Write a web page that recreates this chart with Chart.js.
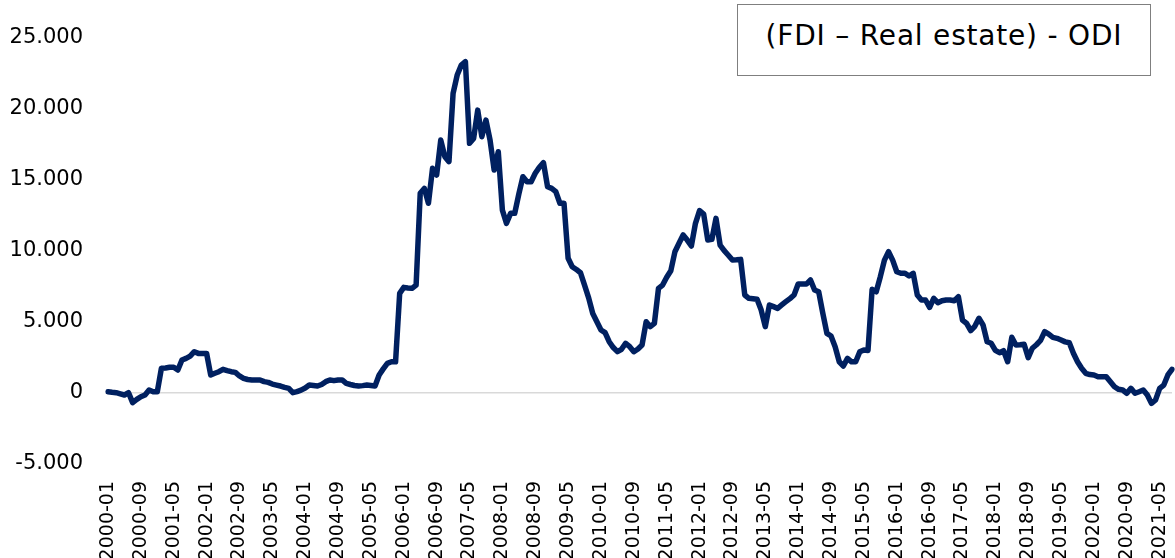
<!DOCTYPE html>
<html>
<head>
<meta charset="utf-8">
<script src="https://cdn.jsdelivr.net/npm/chart.js@4/dist/chart.umd.min.js"></script>
<style>
  body { margin: 0; background: #fff; overflow: hidden; }
  #wrap { position: relative; width: 1175px; height: 558px; }
  #legendBox {
    position: absolute; left: 737px; top: 4px; width: 412px; height: 70px;
    box-sizing: content-box; padding: 0 0 0 0;
    border: 1px solid #7f7f7f; background: #fff;
    display: flex; align-items: center; justify-content: center;
    font-family: Verdana, "DejaVu Sans", sans-serif; font-size: 28px; letter-spacing: 0.8px; color: #000;
  }
  #legendBox span { position: relative; top: -5px; }
</style>
</head>
<body>
<div id="wrap">
  <canvas id="fdiChart" width="1175" height="558"></canvas>
  <div id="legendBox"><span>(FDI – Real estate) - ODI</span></div>
</div>
<script>
// monthly categories 2000-01 .. 2021-08
const startYear = 2000;
const monthCount = 260;
const months = [];
for (let i = 0; i < monthCount; i++) {
    const y = startYear + Math.floor(i / 12);
    const m = (i % 12) + 1;
    months.push(y + '-' + (m < 10 ? '0' + m : m));
}

const seriesLabel = '(FDI – Real estate) - ODI';

// values, one per month
const netFlow = [
    90, 50, 20, -60, -140, 20, -680, -450, -260, -140, 210, 90,
    90, 1740, 1760, 1810, 1810, 1620, 2320, 2440, 2600, 2910, 2790, 2790,
    2790, 1270, 1390, 1500, 1670, 1580, 1500, 1450, 1200, 1030, 950, 920,
    920, 920, 800, 750, 630, 560, 490, 400, 330, 20, 100, 200,
    350, 560, 530, 490, 600, 800, 920, 870, 920, 920, 680, 600,
    530, 490, 520, 560, 530, 490, 1270, 1700, 2090, 2200, 2200, 7020,
    7440, 7400, 7370, 7600, 14060, 14410, 13360, 15820, 15350, 17810, 16640, 16290,
    21100, 22390, 23090, 23330, 17580, 17930, 19920, 18050, 19220, 17810, 15700, 16990,
    12880, 11950, 12650, 12650, 14000, 15230, 14880, 14880, 15470, 15900, 16220, 14530,
    14410, 14180, 13360, 13360, 9490, 8890, 8700, 8470, 7600, 6700, 5600, 5020,
    4440, 4250, 3610, 3200, 2910, 3080, 3500, 3260, 2910, 3100, 3380, 5020,
    4670, 4900, 7370, 7600, 8150, 8610, 9950, 10540, 11130, 10770, 10350, 11950,
    12840, 12600, 10770, 10820, 12300, 10420, 10020, 9700, 9360, 9380, 9410, 6900,
    6670, 6640, 6600, 5840, 4670, 6200, 6080, 5960, 6200, 6430, 6650, 6900,
    7670, 7670, 7670, 7960, 7250, 7130, 5610, 4200, 4010, 3260, 2200, 1900,
    2440, 2200, 2200, 2900, 3030, 3000, 7300, 7130, 8190, 9360, 9950, 9360,
    8540, 8430, 8430, 8240, 8430, 6900, 6550, 6550, 6030, 6670, 6360, 6500,
    6550, 6550, 6500, 6780, 5140, 4900, 4390, 4700, 5260, 4790, 3610, 3500,
    3000, 2840, 2980, 2200, 3920, 3380, 3400, 3430, 2490, 3150, 3400, 3700,
    4320, 4150, 3920, 3850, 3730, 3600, 3540, 2800, 2200, 1740, 1390, 1300,
    1270, 1150, 1150, 1150, 800, 440, 260, 210, -20, 330, -20, 90,
    210, -140, -730, -490, 330, 560, 1270, 1670
];

const yMin = -5000;
const yMax = 25000;
const yStep = 5000;
const labelEvery = 8;

const fontFamily = 'Verdana, "DejaVu Sans", sans-serif';

const ctx = document.getElementById('fdiChart').getContext('2d');
const fdiChart = new Chart(ctx, {
    type: 'line',
    data: {
        labels: months,
        datasets: [{
            label: seriesLabel,
            data: netFlow,
            borderColor: '#002060',
            borderWidth: 5.5,
            pointRadius: 0,
            tension: 0,
            borderJoinStyle: 'round',
            borderCapStyle: 'round',
            fill: false
        }]
    },
    options: {
        responsive: false,
        animation: false,
        layout: { padding: { top: 38, right: 0, bottom: 0, left: 0 } },
        plugins: {
            legend: { display: false },
            tooltip: { enabled: false }
        },
        scales: {
            x: {
                grid: { display: false, drawTicks: false },
                border: { display: false },
                ticks: {
                    autoSkip: false,
                    minRotation: 90,
                    maxRotation: 90,
                    padding: 17,
                    color: '#000',
                    font: { family: fontFamily, size: 19 },
                    callback: function(value, index) {
                        return index % labelEvery === 0 ? this.getLabelForValue(value) : null;
                    }
                },
                afterFit: function(scale) {
                    scale.height = 94;
                    scale.paddingLeft = 0;
                    scale.paddingRight = 3;
                }
            },
            y: {
                min: yMin,
                max: yMax,
                border: { display: false },
                grid: {
                    drawTicks: false,
                    lineWidth: 1.5,
                    color: c => c.tick && c.tick.value === 0 ? '#d9d9d9' : 'rgba(0,0,0,0)'
                },
                ticks: {
                    stepSize: yStep,
                    padding: 25,
                    color: '#000',
                    font: { family: fontFamily, size: 21 },
                    callback: v => v.toLocaleString('de-DE')
                },
                afterFit: function(scale) {
                    scale.width = 108;
                }
            }
        }
    }
});
</script>
</body>
</html>
